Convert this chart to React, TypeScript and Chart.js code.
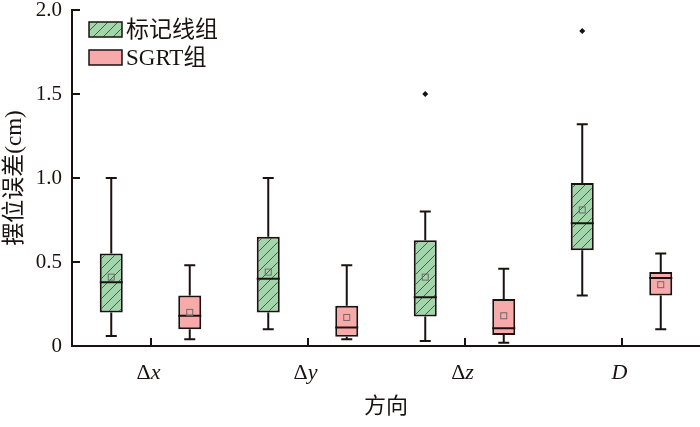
import React, { useEffect, useRef } from "react";
import { Chart, registerables } from "chart.js";

Chart.register(...registerables);

// ---- data ----
const categories = ["Δx", "Δy", "Δz", "D"];
const seriesNames = ["标记线组", "SGRT组"];

const markerMin = [0.06, 0.1, 0.03, 0.3];
const markerQ1 = [0.2, 0.2, 0.175, 0.57];
const markerMedian = [0.38, 0.4, 0.29, 0.73];
const markerQ3 = [0.55, 0.65, 0.63, 0.97];
const markerMax = [1.0, 1.0, 0.8, 1.32];
const markerMean = [0.41, 0.44, 0.41, 0.81];
const markerOutliers = [[], [], [1.5], [1.875]];

const sgrtMin = [0.04, 0.04, 0.02, 0.1];
const sgrtQ1 = [0.1, 0.055, 0.065, 0.3];
const sgrtMedian = [0.18, 0.11, 0.105, 0.405];
const sgrtQ3 = [0.3, 0.24, 0.28, 0.44];
const sgrtMax = [0.48, 0.48, 0.46, 0.55];
const sgrtMean = [0.2, 0.17, 0.18, 0.365];
const sgrtOutliers = [[], [], [], []];

const yTickValues = [0, 0.5, 1.0, 1.5, 2.0];

// ---- style ----
const INK = "#1a1210";
const GREEN = "#a3d5ab";
const HATCH = "#3a6644";
const PINK = "#f8aaaa";
const SERIF = '"Liberation Serif", "Noto Sans CJK SC", serif';

function makeHatch(): CanvasPattern | string {
  const c = document.createElement("canvas");
  c.width = 10;
  c.height = 10;
  const g = c.getContext("2d");
  if (!g) return GREEN;
  g.fillStyle = GREEN;
  g.fillRect(0, 0, 10, 10);
  g.strokeStyle = HATCH;
  g.lineWidth = 1;
  g.beginPath();
  g.moveTo(-1, 11);
  g.lineTo(11, -1);
  g.moveTo(-6, 6);
  g.lineTo(6, -6);
  g.moveTo(4, 16);
  g.lineTo(16, 4);
  g.stroke();
  const p = g.createPattern(c, "repeat");
  return p || GREEN;
}

const groups = [
  { min: markerMin, q1: markerQ1, med: markerMedian, q3: markerQ3, max: markerMax, mean: markerMean, out: markerOutliers },
  { min: sgrtMin, q1: sgrtQ1, med: sgrtMedian, q3: sgrtQ3, max: sgrtMax, mean: sgrtMean, out: sgrtOutliers },
];

export default function App() {
  const ref = useRef<HTMLCanvasElement | null>(null);

  useEffect(() => {
    if (!ref.current) return;
    const hatch = makeHatch();

    const extras = {
      id: "boxExtras",
      afterDraw(chart: any) {
        const ctx = chart.ctx as CanvasRenderingContext2D;
        const ys = chart.scales.y;
        const xs = chart.scales.x;
        const area = chart.chartArea;
        ctx.save();
        ctx.strokeStyle = INK;
        ctx.lineCap = "butt";

        groups.forEach((g, di) => {
          const meta = chart.getDatasetMeta(di);
          meta.data.forEach((bar: any, i: number) => {
            const { x, width } = bar.getProps(["x", "width"], true);
            const pMin = ys.getPixelForValue(g.min[i]);
            const pQ1 = ys.getPixelForValue(g.q1[i]);
            const pQ3 = ys.getPixelForValue(g.q3[i]);
            const pMax = ys.getPixelForValue(g.max[i]);
            const pMed = ys.getPixelForValue(g.med[i]);
            const pMean = ys.getPixelForValue(g.mean[i]);
            const cap = 11;
            ctx.lineWidth = 2;
            ctx.beginPath();
            ctx.moveTo(x, pQ3);
            ctx.lineTo(x, pMax);
            ctx.moveTo(x - cap / 2, pMax);
            ctx.lineTo(x + cap / 2, pMax);
            ctx.moveTo(x, pQ1);
            ctx.lineTo(x, pMin);
            ctx.moveTo(x - cap / 2, pMin);
            ctx.lineTo(x + cap / 2, pMin);
            ctx.moveTo(x - width / 2, pMed);
            ctx.lineTo(x + width / 2, pMed);
            ctx.stroke();
            ctx.lineWidth = 1;
            ctx.strokeStyle = "#6a6a6a";
            ctx.strokeRect(x - 3, pMean - 3, 6, 6);
            ctx.strokeStyle = INK;
            ctx.fillStyle = INK;
            g.out[i].forEach((v: number) => {
              const py = ys.getPixelForValue(v);
              ctx.beginPath();
              ctx.moveTo(x, py - 3);
              ctx.lineTo(x + 3, py);
              ctx.lineTo(x, py + 3);
              ctx.lineTo(x - 3, py);
              ctx.closePath();
              ctx.fill();
            });
          });
        });

        // inward ticks
        ctx.lineWidth = 2;
        ctx.strokeStyle = INK;
        ctx.beginPath();
        yTickValues.forEach((v) => {
          const py = Math.round(ys.getPixelForValue(v));
          if (v === 0) return;
          ctx.moveTo(area.left, py);
          ctx.lineTo(area.left + 8, py);
        });
        categories.forEach((_, i) => {
          const px = Math.round(xs.getPixelForTick(i));
          ctx.moveTo(px, area.bottom);
          ctx.lineTo(px, area.bottom - 8);
        });
        ctx.stroke();

        // x tick labels (Δ upright, variable italic)
        ctx.fillStyle = INK;
        ctx.textBaseline = "middle";
        ctx.textAlign = "left";
        categories.forEach((lab, i) => {
          const px = xs.getPixelForTick(i) - 2;
          const py = area.bottom + 27;
          const parts: [string, string][] = lab.startsWith("Δ")
            ? [["Δ", `22px ${SERIF}`], [lab.slice(1), `italic 22px ${SERIF}`]]
            : [[lab, `italic 22px ${SERIF}`]];
          let total = 0;
          parts.forEach(([t, f]) => {
            ctx.font = f;
            total += ctx.measureText(t).width;
          });
          let cx = px - total / 2;
          parts.forEach(([t, f]) => {
            ctx.font = f;
            ctx.fillText(t, cx, py);
            cx += ctx.measureText(t).width;
          });
        });

        // legend
        const items = [
          { label: seriesNames[0], fill: hatch, y: 22 },
          { label: seriesNames[1], fill: PINK, y: 50 },
        ];
        items.forEach((it) => {
          ctx.fillStyle = it.fill as any;
          ctx.fillRect(89, it.y, 33, 15);
          ctx.lineWidth = 1.5;
          ctx.strokeStyle = INK;
          ctx.strokeRect(89, it.y, 33, 15);
          ctx.fillStyle = INK;
          ctx.font = `23px ${SERIF}`;
          ctx.textBaseline = "middle";
          ctx.textAlign = "left";
          ctx.fillText(it.label, 126, it.y + 9);
        });
        ctx.restore();
      },
    };

    const chart = new Chart(ref.current, {
      type: "bar",
      data: {
        labels: categories,
        datasets: [
          {
            label: seriesNames[0],
            data: categories.map((_, i) => [markerQ1[i], markerQ3[i]]) as any,
            backgroundColor: hatch as any,
            borderColor: INK,
            borderWidth: 2,
            borderSkipped: false,
            categoryPercentage: 1.0,
            barPercentage: 0.293,
          },
          {
            label: seriesNames[1],
            data: categories.map((_, i) => [sgrtQ1[i], sgrtQ3[i]]) as any,
            backgroundColor: PINK,
            borderColor: INK,
            borderWidth: 2,
            borderSkipped: false,
            categoryPercentage: 1.0,
            barPercentage: 0.293,
          },
        ],
      },
      options: {
        animation: false,
        responsive: true,
        maintainAspectRatio: false,
        layout: { padding: { top: 10, right: 0, left: 0, bottom: 0 } },
        plugins: {
          legend: { display: false },
          tooltip: { enabled: false },
        },
        scales: {
          x: {
            grid: { display: false, drawTicks: false },
            border: { display: true, color: INK, width: 2 },
            ticks: { display: false },
            title: {
              display: true,
              text: "方向",
              color: INK,
              font: { family: SERIF, size: 22 },
              padding: { top: 0, bottom: 7 },
            },
            afterFit: (s: any) => {
              s.height = 81;
              s.paddingLeft = 0;
              s.paddingRight = 0;
            },
          },
          y: {
            min: 0,
            max: 2,
            grid: { display: false, drawTicks: false },
            border: { display: true, color: INK, width: 2 },
            ticks: {
              stepSize: 0.5,
              padding: 10,
              color: INK,
              font: { family: SERIF, size: 21 },
              callback: (v: any) => (Number(v) === 0 ? "0" : Number(v).toFixed(1)),
            },
            title: {
              display: true,
              text: "摆位误差(cm)",
              color: INK,
              font: { family: SERIF, size: 23 },
              padding: { top: 1, bottom: 0 },
            },
            afterFit: (s: any) => {
              s.width = 72;
              s.paddingTop = 0;
              s.paddingBottom = 0;
            },
          },
        },
      },
      plugins: [extras],
    });
    return () => chart.destroy();
  }, []);

  return (
    <div style={{ position: "fixed", left: 0, top: 0, width: 700, height: 427, background: "#fff" }}>
      <canvas ref={ref} />
    </div>
  );
}
